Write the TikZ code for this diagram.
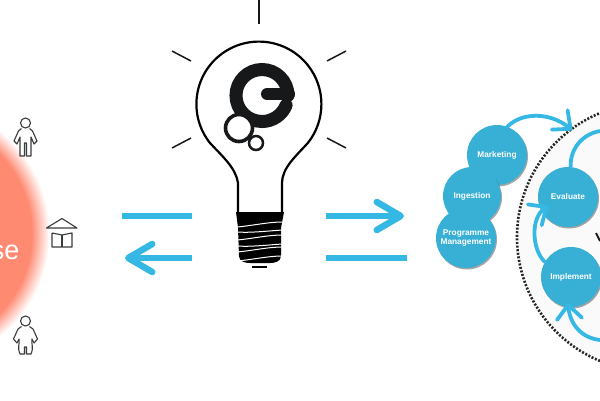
\documentclass[tikz,border=0pt]{standalone}
\usepackage{fontspec}
\setsansfont{Liberation Sans}
\usetikzlibrary{arrows.meta,shadows}
\definecolor{skyline}{HTML}{35B9E4}
\definecolor{ballblue}{HTML}{38AFD4}
\definecolor{logoink}{HTML}{17181A}
\definecolor{salmonred}{HTML}{FF8A72}
\tikzset{
  bar/.style={skyline,line width=6.5pt},
  bigarrow/.style={bar,-{Straight Barb[length=24pt,width=28pt,round]}},
  looparrow/.style={skyline,line width=3.8pt,line cap=round,-{Straight Barb[length=14pt,width=25pt,round]}},
  ball/.style={circle,fill=ballblue,minimum size=60pt,inner sep=0pt,text=white,align=center,
    font=\sffamily\bfseries\fontsize{8.3}{9.5}\selectfont,
    drop shadow={shadow xshift=1pt,shadow yshift=-1.5pt,opacity=.35,fill=black}},
  ray/.style={logoink,line width=1.5pt},
  icon/.style={logoink!85,line width=1.1pt,line join=round}
}
\begin{document}
\begin{tikzpicture}[x=1pt,y=-1pt]
  \useasboundingbox (0,0) rectangle (600,400);
  \clip (0,0) rectangle (600,400);

  % glow
  \foreach \i in {0,...,17} {
    \pgfmathsetmacro{\pct}{(\i+1)*100/18}
    \fill[salmonred!\pct!white] (-81.5,234) circle (131-\i);
  }
  \fill[salmonred] (-81.5,234) circle (113.5);
  \node[anchor=base east,inner sep=0pt,text=white,font=\sffamily\fontsize{27}{27}\selectfont] (uselabel) at (19.5,259) {se};

  % people and library
  \draw[icon] (25.5,123) circle (5);
  \draw[icon] (21.5,128.5) -- (18.5,131) -- (14,141) -- (17,144) -- (20,137) -- (20,156) -- (24.5,156)
    -- (24.5,143) -- (26.5,143) -- (26.5,156) -- (31,156) -- (31,137) -- (34,144) -- (37,141) -- (32.5,131) -- (29.5,128.5);
  \draw[icon] (25.5,321) circle (5);
  \draw[icon] (21.5,326.5) -- (18,329) -- (13.5,339) -- (17,343) -- (19,339) .. controls (20,344) and (17,347) .. (20,354) -- (24.5,354)
    -- (24.5,347) -- (26.5,347) -- (26.5,354) -- (31,354) .. controls (34,347) and (31,344) .. (32,339) -- (34,343) -- (37.5,339) -- (33,329) -- (29.5,326.5);
  \draw[icon] (46.5,228) -- (62,218.5) -- (77,228) -- cycle;
  \draw[icon] (52,233) -- (52,247) -- (72,247) -- (72,233) -- (62,235) -- (52,233);
  \draw[icon] (62,235) -- (62,247);

  % bulb
  \draw[ray] (259,0) -- (259,24);
  \draw[ray] (172,51) -- (191,61);
  \draw[ray] (346,51) -- (327,61);
  \draw[ray] (172,148) -- (191,138);
  \draw[ray] (346,148) -- (327,138);
  \draw[black,line width=2.2pt,line join=round] (238,214) -- (238,183) .. controls (236,168) and (222,156) .. (210,143)
    arc[start angle=141.5,end angle=398.5,radius=62.5] .. controls (296,156) and (282,168) .. (282,183) -- (282,214);
  \fill[black] (236,212) -- (284,212) -- (281,228) -- (281,256) .. controls (281,262) and (274,263) .. (270,263)
    -- (250,263) .. controls (246,263) and (239,262) .. (239,256) -- (238,228) -- cycle;
  \foreach \y in {227,240,252,261}
    \draw[white,line width=1pt] (237,\y) .. controls (250,\y-1) and (268,\y-5) .. (282,\y-5);
  \foreach \y in {232,246}
    \draw[white,line width=1pt] (237,\y) .. controls (250,\y+1) and (268,\y-1) .. (282,\y-2);
  \draw[black,line width=2pt] (252,266.5) -- (267,266.5);

  % logo
  \draw[logoink,line width=13pt,line cap=round] (262,95.5) ++(26,0) arc[start angle=360,end angle=22,radius=26];
  \draw[logoink,line width=12pt,line cap=round] (267,94) -- (289,94);
  \draw[logoink,fill=white,line width=3.6pt] (239,128) circle (13.5);
  \draw[logoink,fill=white,line width=2.5pt] (256,143) circle (7);

  % arrows
  \coordinate (lefttopa) at (122,216);
  \coordinate (lefttopb) at (192,216);
  \coordinate (leftlowa) at (192,258);
  \coordinate (leftlowb) at (125,258);
  \coordinate (righttopa) at (326,216);
  \coordinate (righttopb) at (404,216);
  \coordinate (rightlowa) at (326,258);
  \coordinate (rightlowb) at (407,258);
  \draw[bar] (lefttopa) -- (lefttopb);
  \draw[bigarrow] (leftlowa) -- (leftlowb);
  \draw[bigarrow] (righttopa) -- (righttopb);
  \draw[bar] (rightlowa) -- (rightlowb);

  % cycle
  \fill[black!2] (651,237) circle (134);
  \draw[black!85,line width=2.6pt,dash pattern=on 2pt off 1.6pt] (651,237) circle (134);
  \node[ball] (marketing) at (497,155) {Marketing};
  \node[ball,minimum size=58pt] (ingestion) at (472,196) {Ingestion};
  \node[ball] (programme) at (466,238) {Programme\\Management};
  \node[ball] (evaluate) at (568,197) {Evaluate};
  \node[ball] (implement) at (571,277) {Implement};
  \coordinate (marketingend) at (572,130);
  \coordinate (evaluateend) at (600,131);
  \coordinate (evaluatetip) at (548,206);
  \coordinate (implementtip) at (568,303);
  \coordinate (bottomstart) at (600,340);
  \draw[looparrow] (marketing.70) .. controls (522,112) and (550,112) .. (marketingend);
  \draw[skyline,line width=3.8pt] (evaluate.85) .. controls (570,148) and (583,134) .. (evaluateend);
  \draw[looparrow] (implement.150) .. controls (532,250) and (530,218) .. (evaluatetip);
  \draw[looparrow] (bottomstart) .. controls (582,338) and (570,325) .. (implementtip);
  \draw[logoink,line width=2pt] (596,233) -- (600,241);
\end{tikzpicture}
\end{document}
